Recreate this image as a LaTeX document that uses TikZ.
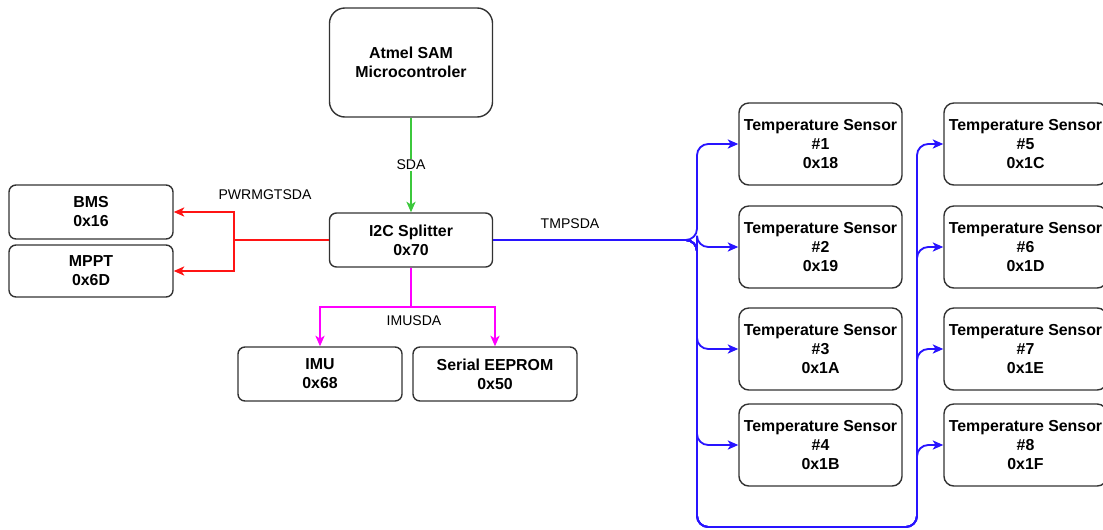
\documentclass[tikz,border=0pt]{standalone}
\usepackage{fontspec}
\setmainfont{Liberation Sans}
\usetikzlibrary{positioning,arrows.meta}

\definecolor{sdagreen}{RGB}{60,200,60}
\definecolor{pwrred}{RGB}{255,20,20}
\definecolor{imumag}{RGB}{255,0,255}
\definecolor{tmpblue}{RGB}{40,20,255}
\definecolor{boxline}{RGB}{50,50,50}

\begin{document}
\begin{tikzpicture}[x=0.025cm, y=-0.025cm,
    dev/.style={rectangle, rounded corners=5pt, draw=boxline, line width=1pt, minimum width=4.1cm, minimum height=1.35cm, align=center, inner sep=1pt, font=\fontsize{11.3}{13.5}\selectfont\bfseries},
    sensor/.style={dev, minimum width=4.075cm, minimum height=2.05cm, rounded corners=7pt},
    bus/.style={line width=1.3pt, -{Stealth[length=7.5pt, width=6.5pt, inset=2pt]}},
    lbl/.style={inner sep=1pt, text=black, font=\fontsize{10}{12}\selectfont}]
    \useasboundingbox (0,0) rectangle (1103,529);
    \clip (0,0) rectangle (1103,529);

    % controller and splitter
    \node [dev, minimum width=4.075cm, minimum height=2.725cm, rounded corners=11pt] (mcu) at (411,62.5) {Atmel SAM\\Microcontroler};
    \node [dev, minimum width=4.075cm] (spl) at (411,240) {I2C Splitter\\0x70};

    % devices on the splitter
    \node [dev] (bms) at (91,212) {BMS\\0x16};
    \node [dev, minimum height=1.3cm] (mppt) at (91,271) {MPPT\\0x6D};
    \node [dev] (imu) at (320,374) {IMU\\0x68};
    \node [dev] (eep) at (495,374) {Serial EEPROM\\0x50};

    \foreach \n/\x/\y/\a in {1/820.5/144/18, 2/820.5/247/19, 3/820.5/349/1A, 4/820.5/445/1B,
                             5/1025.5/144/1C, 6/1025.5/247/1D, 7/1025.5/349/1E, 8/1025.5/445/1F}
        \node [sensor] (ts\n) at (\x,\y) {Temperature Sensor\\\#\n\\0x\a};

    % bus branch points
    \coordinate (pj) at (234,240);
    \coordinate (ij) at (411,307);
    \coordinate (tj) at (697,240);
    \coordinate (tl) at (697,527);
    \coordinate (tr) at (917,527);

    \draw [bus, sdagreen] (mcu) -- node [lbl, fill=white] (sdalbl) {SDA} (spl);

    \draw [bus, pwrred] (spl.west) -- (pj) |- (bms.east);
    \draw [bus, pwrred] (spl.west) -- (pj) |- (mppt.east);
    \node [lbl] (pwrlbl) at (265,195) {PWRMGTSDA};

    \draw [bus, imumag] (spl.south) -- (ij) -| (imu.north);
    \draw [bus, imumag] (spl.south) -- (ij) -| (eep.north);
    \node [lbl] (imulbl) at (414,321) {IMUSDA};

    \foreach \n in {1,...,4}
        \draw [bus, tmpblue, rounded corners=8pt] (spl.east) -- (tj) |- (ts\n.west);
    \foreach \n in {5,...,8}
        \draw [bus, tmpblue, rounded corners=8pt] (spl.east) -- (tj) -- (tl) -- (tr) |- (ts\n.west);
    \node [lbl] (tmplbl) at (570,224) {TMPSDA};
\end{tikzpicture}
\end{document}
